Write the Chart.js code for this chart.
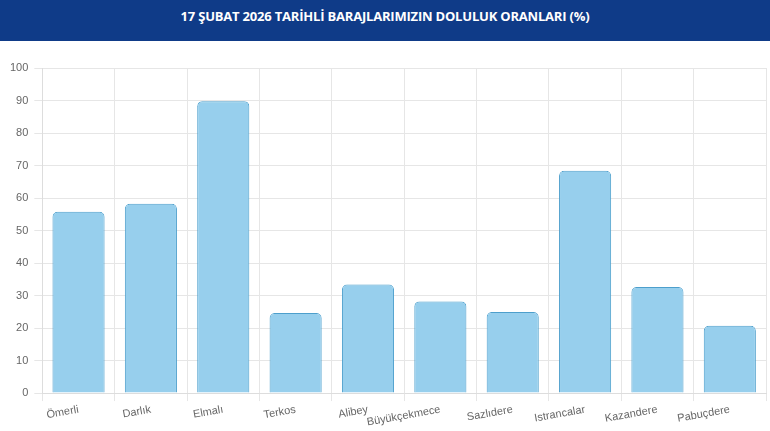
<!DOCTYPE html>
<html>
<head>
<meta charset="utf-8">
<script src="https://cdn.jsdelivr.net/npm/chart.js@4.4.1/dist/chart.umd.min.js"></script>
<style>
  html, body { margin:0; padding:0; background:#fff; }
  body { width:770px; height:431px; overflow:hidden; font-family:"Open Sans", Arial, sans-serif; }
  .header { height:41px; background:#0f3b88; color:#fff; font-weight:bold; font-size:13px; text-align:center; line-height:33px; letter-spacing:-0.2px; }
  .wrap { position:relative; width:770px; height:390px; }
</style>
</head>
<body>
<div class="header">17 ŞUBAT 2026 TARİHLİ BARAJLARIMIZIN DOLULUK ORANLARI (%)</div>
<div class="wrap"><canvas id="chart"></canvas></div>
<script>
// dam names and fill ratios (%)
const dams = ['Ömerli', 'Darlık', 'Elmalı', 'Terkos', 'Alibey', 'Büyükçekmece', 'Sazlıdere', 'Istrancalar', 'Kazandere', 'Pabuçdere'];
const fillRates = [55.8, 58.2, 89.8, 24.6, 33.4, 28.2, 24.9, 68.4, 32.6, 20.7];
const yTicks = [0, 10, 20, 30, 40, 50, 60, 70, 80, 90, 100];

const ctx = document.getElementById('chart').getContext('2d');
new Chart(ctx, {
  type: 'bar',
  data: {
    labels: dams,
    datasets: [{
      data: fillRates,
      backgroundColor: '#97cfed',
      borderColor: '#4d9fcc',
      borderWidth: 1,
      borderRadius: 5,
      borderSkipped: 'bottom',
      categoryPercentage: 0.72,
      barPercentage: 1
    }]
  },
  options: {
    responsive: true,
    maintainAspectRatio: false,
    animation: false,
    layout: { padding: { top: 27, right: 4, left: 4, bottom: 0 } },
    plugins: { legend: { display: false }, tooltip: { enabled: false } },
    scales: {
      x: {
        grid: { color: '#e6e6e6', offset: true },
        border: { color: '#dddddd' },
        ticks: { color: '#666', font: { size: 11, family: 'Arial' }, autoSkip: false, minRotation: 10, maxRotation: 10, padding: 2 }
      },
      y: {
        min: 0, max: 100,
        afterBuildTicks: (axis) => { axis.ticks = yTicks.map(v => ({ value: v })); },
        grid: { color: '#e6e6e6' },
        border: { color: '#dddddd' },
        ticks: { color: '#666', font: { size: 11, family: 'Arial' }, padding: 6 }
      }
    }
  }
});
</script>
</body>
</html>
